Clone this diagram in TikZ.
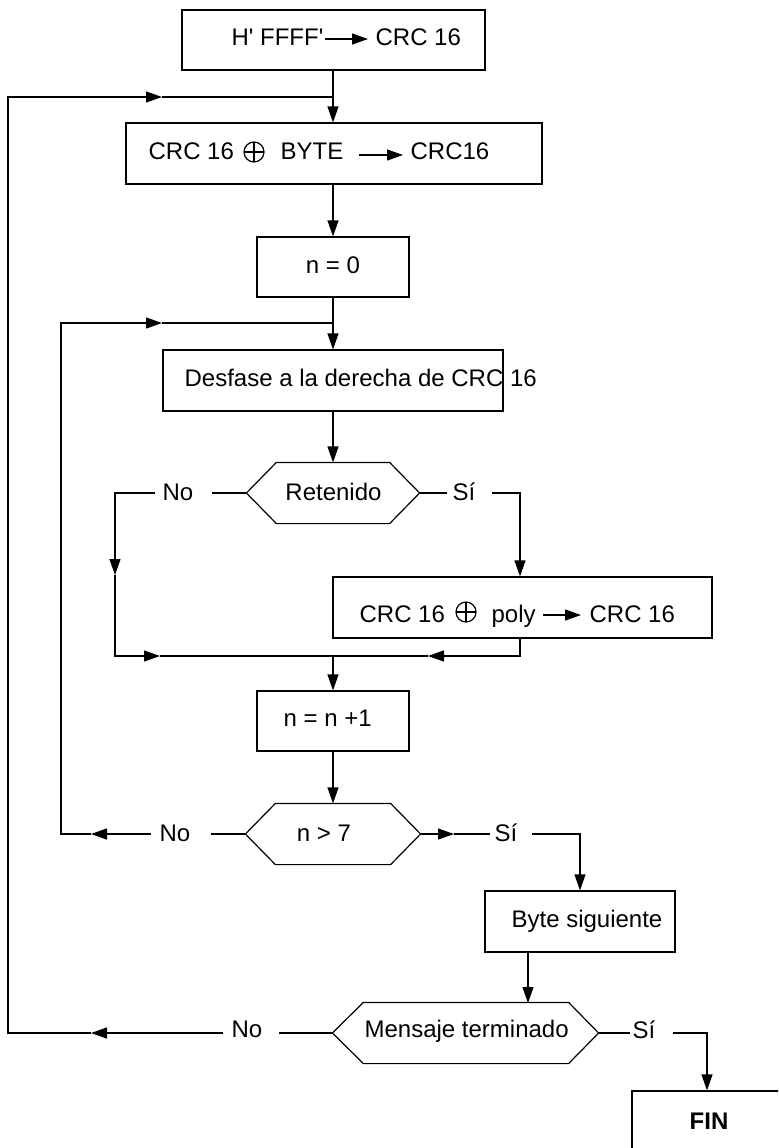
\documentclass[tikz,border=0pt]{standalone}
\usepackage{fontspec}
\setmainfont{Liberation Sans}
\usetikzlibrary{arrows.meta}
\begin{document}
\begin{tikzpicture}[x=0.5pt,y=-0.5pt,
  line width=0.6pt,
  every node/.style={font=\fontsize{12}{14}\selectfont},
  arr/.style={-{Triangle[length=8pt,width=5.5pt]}},
  box/.style={draw,inner sep=0pt,rectangle},
  txt/.style={inner sep=0pt,anchor=base west},
  ctxt/.style={inner sep=0pt,anchor=base},
  xorc/.style={draw,circle,inner sep=0pt,minimum size=10pt,
    path picture={\draw (path picture bounding box.north) -- (path picture bounding box.south)
      (path picture bounding box.west) -- (path picture bounding box.east);}},
  hex/.style={inner sep=0pt}
]
\clip (0,0) rectangle (778,1148);
\fill[white] (0,0) rectangle (778,1148);

% ---------- boxes ----------
\node[box,minimum width=151.5pt,minimum height=30pt] (top) at (333.5,40) {};
\node[box,minimum width=208pt,minimum height=30.5pt] (crc) at (334,153.5) {};
\node[box,minimum width=76pt,minimum height=30pt] (n0) at (333,267) {};
\node[box,minimum width=170pt,minimum height=30.5pt] (desf) at (333,380.5) {};
\node[box,minimum width=189.5pt,minimum height=30.5pt] (poly) at (522.5,607.5) {};
\node[box,minimum width=76pt,minimum height=30pt] (nn1) at (333,721) {};
\node[box,minimum width=95pt,minimum height=30.5pt] (byte) at (580,921.5) {};
\node[box,minimum width=88pt,minimum height=44pt] (fin) at (720,1135) {};

% ---------- hexagons ----------
\node[hex,minimum width=86pt,minimum height=30pt] (ret) at (333,493) {};
\draw (ret.west) -- ([xshift=15pt]ret.north west) -- ([xshift=-15pt]ret.north east)
  -- (ret.east) -- ([xshift=-15pt]ret.south east) -- ([xshift=15pt]ret.south west) -- cycle;
\node[hex,minimum width=87pt,minimum height=30pt] (nsev) at (333,834) {};
\draw (nsev.west) -- ([xshift=15pt]nsev.north west) -- ([xshift=-15pt]nsev.north east)
  -- (nsev.east) -- ([xshift=-15pt]nsev.south east) -- ([xshift=15pt]nsev.south west) -- cycle;
\node[hex,minimum width=132.5pt,minimum height=30pt] (msj) at (465.5,1033) {};
\draw (msj.west) -- ([xshift=15.5pt]msj.north west) -- ([xshift=-15pt]msj.north east)
  -- (msj.east) -- ([xshift=-15pt]msj.south east) -- ([xshift=15.5pt]msj.south west) -- cycle;

% ---------- texts ----------
\node[txt] (t1a) at (231,45) {H\textquotesingle{} FFFF\textquotesingle};
\node[txt] (t1b) at (375,45) {CRC 16};
\coordinate (t1s) at (325,39);
\coordinate (t1e) at (368,39);
\draw[arr] (t1s) -- (t1e);

\node[txt] (t2a) at (148,159) {CRC 16};
\node[xorc] (x1) at (254,152) {};
\node[txt] (t2b) at (280,159) {BYTE};
\node[txt] (t2c) at (410,159) {CRC16};
\coordinate (t2s) at (359,155);
\coordinate (t2e) at (403,155);
\draw[arr] (t2s) -- (t2e);

\node[ctxt] (t3) at (333,273) {n = 0};
\node[txt] (t4) at (184,386) {Desfase a la derecha de CRC 16};
\node[ctxt] (t5) at (333.5,500) {Retenido};

\node[txt] (t6a) at (359,622) {CRC 16};
\node[xorc] (x2) at (466,612) {};
\node[txt] (t6b) at (491,622) {poly};
\node[txt] (t6c) at (589,622) {CRC 16};
\coordinate (t6s) at (543,615);
\coordinate (t6e) at (581,615);
\draw[arr] (t6s) -- (t6e);

\node[txt] (t7) at (283,726) {n = n +1};
\node[ctxt] (t8) at (324,841) {n > 7};
\node[txt] (t9) at (511,927) {Byte siguiente};
\node[txt] (t10) at (364,1037) {Mensaje terminado};
\node[ctxt] (t11) at (709,1129) {\bfseries FIN};

\node[txt] (no1) at (162,500) {No};
\node[txt] (si1) at (452,500) {Sí};
\node[txt] (no2) at (159,841) {No};
\node[txt] (si2) at (494,841) {Sí};
\node[txt] (no3) at (231,1037) {No};
\node[txt] (si3) at (632,1038) {Sí};

% ---------- coordinates ----------
\coordinate (j1) at (333,97);
\coordinate (j2) at (333,323);
\coordinate (jm) at (333,656);

% ---------- main flow ----------
\draw (top.south -| j1) -- (j1);
\draw[arr] (j1) -- (j1 |- crc.north);
\draw[arr] (crc.south -| j1) -- (j1 |- n0.north);
\draw (n0.south -| j1) -- (j2);
\draw[arr] (j2) -- (j2 |- desf.north);
\draw[arr] (desf.south -| j2) -- (ret.north);

% Retenido: No branch
\coordinate (r1) at (212,493);
\coordinate (r2) at (155,493);
\coordinate (r3) at (115,493);
\coordinate (r4) at (115,575);
\coordinate (r5) at (115,656);
\coordinate (r6) at (160,656);
\draw (ret.west) -- (r1);
\draw[arr] (r2) -- (r3) -- (r4);
\draw[arr] (r4) -- (r5) -- (r6);
\draw (r6) -- (jm);

% Retenido: Si branch
\coordinate (s1) at (447,493);
\coordinate (s2) at (492,493);
\coordinate (s3) at (520,493);
\draw (ret.east) -- (s1);
\draw[arr] (s2) -- (s3) -- (s3 |- poly.north);

% poly back to merge
\coordinate (p1) at (520,656);
\coordinate (p2) at (428,656);
\draw[arr] (p1 |- poly.south) -- (p1) -- (p2);
\draw (p2) -- (jm);

\draw[arr] (jm) -- (jm |- nn1.north);
\draw[arr] (nn1.south -| jm) -- (nsev.north);

% n>7: No branch (inner loop)
\coordinate (q1) at (211,834);
\coordinate (q2) at (151,834);
\coordinate (q3) at (91,834);
\coordinate (q4) at (61,834);
\coordinate (q5) at (61,323);
\coordinate (q6) at (162,323);
\draw (nsev.west) -- (q1);
\draw[arr] (q2) -- (q3);
\draw[arr] (q3) -- (q4) -- (q5) -- (q6);
\draw (q6) -- (j2);

% n>7: Si branch
\coordinate (u1) at (454,834);
\coordinate (u2) at (490,834);
\coordinate (u3) at (532,834);
\coordinate (u4) at (580,834);
\draw[arr] (nsev.east) -- (u1);
\draw (u1) -- (u2);
\draw[arr] (u3) -- (u4) -- (u4 |- byte.north);

% byte -> mensaje
\coordinate (b1) at (528,952);
\coordinate (b2) at (528,1003);
\draw[arr] (b1) -- (b2);

% mensaje: No branch (outer loop)
\coordinate (m1) at (279,1033);
\coordinate (m2) at (223,1033);
\coordinate (m3) at (91,1033);
\coordinate (m4) at (8,1033);
\coordinate (m5) at (8,97);
\coordinate (m6) at (162,97);
\draw (msj.west) -- (m1);
\draw[arr] (m2) -- (m3);
\draw[arr] (m3) -- (m4) -- (m5) -- (m6);
\draw (m6) -- (j1);

% mensaje: Si branch
\coordinate (v1) at (630,1033);
\coordinate (v2) at (673,1033);
\coordinate (v3) at (707,1033);
\draw (msj.east) -- (v1);
\draw[arr] (v2) -- (v3) -- (v3 |- fin.north);
\end{tikzpicture}
\end{document}
